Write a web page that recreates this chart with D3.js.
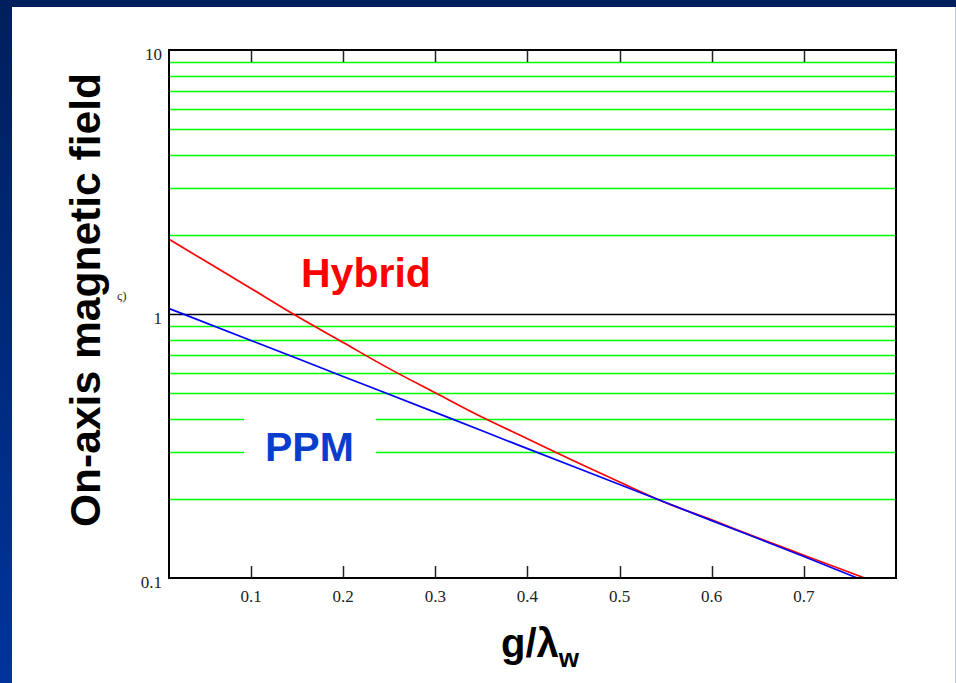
<!DOCTYPE html>
<html lang="en">
  <head>
    <meta charset="UTF-8" />
    <title>On-axis magnetic field</title>
    <script src="https://d3js.org/d3.v7.min.js"></script>
    <style>
      body {
        margin: 0;
        width: 956px;
        height: 683px;
        overflow: hidden;
        background: linear-gradient(180deg, #001f5c, #00349c);
      }
      svg {
        display: block;
      }
    </style>
  </head>
  <body>
    <svg id="chart" width="956" height="683"></svg>
    <script>
      // values (g/lambda_w vs field, log scale)
      const hybridGap = [0.012, 0.05, 0.1, 0.15, 0.2, 0.25, 0.3, 0.35, 0.4, 0.45, 0.5, 0.55, 0.6, 0.65, 0.7, 0.766];
      const hybridField = [1.91, 1.59, 1.25, 0.98, 0.78, 0.621, 0.503, 0.408, 0.337, 0.278, 0.231, 0.193, 0.166, 0.142, 0.122, 0.1];
      const ppmGap = [0.012, 0.1, 0.2, 0.3, 0.4, 0.5, 0.6, 0.7, 0.758];
      const ppmField = [1.046, 0.794, 0.58, 0.424, 0.309, 0.226, 0.165, 0.1206, 0.1];
      const xTicks = [0.1, 0.2, 0.3, 0.4, 0.5, 0.6, 0.7];
      const yTicks = [0.1, 1, 10];

      const width = 956;
      const height = 683;
      const plot = { left: 169, right: 896, top: 50, bottom: 578 };

      const svg = d3.select("#chart");

      // white slide panel
      svg
        .append("rect")
        .attr("x", 12)
        .attr("y", 7)
        .attr("width", width - 13)
        .attr("height", height - 7)
        .attr("fill", "#fff");
      svg
        .append("line")
        .attr("x1", 955.5)
        .attr("x2", 955.5)
        .attr("y1", 7)
        .attr("y2", height)
        .attr("stroke", "#b8c4dc");

      const x = d3.scaleLinear().domain([0.011, 0.8]).range([plot.left, plot.right]);
      const y = d3.scaleLog().domain([0.1, 10]).range([plot.bottom, plot.top]);

      // minor log grid in green, unit line in black
      const minor = y.ticks().filter((v) => !yTicks.some((t) => Math.abs(t - v) < 1e-9));
      svg
        .append("g")
        .selectAll("line")
        .data(minor)
        .join("line")
        .attr("x1", plot.left)
        .attr("x2", plot.right)
        .attr("y1", (d) => Math.round(y(d)) + 0.5)
        .attr("y2", (d) => Math.round(y(d)) + 0.5)
        .attr("stroke", "#00ff00")
        .attr("stroke-width", 1.3);
      svg
        .append("line")
        .attr("x1", plot.left)
        .attr("x2", plot.right)
        .attr("y1", Math.round(y(1)) + 0.5)
        .attr("y2", Math.round(y(1)) + 0.5)
        .attr("stroke", "#000")
        .attr("stroke-width", 1.3);

      // white box behind PPM label
      svg
        .append("rect")
        .attr("x", 244)
        .attr("y", 408)
        .attr("width", 132)
        .attr("height", 62)
        .attr("fill", "#fff");

      svg
        .append("clipPath")
        .attr("id", "clip")
        .append("rect")
        .attr("x", plot.left)
        .attr("y", plot.top)
        .attr("width", plot.right - plot.left)
        .attr("height", plot.bottom - plot.top + 1);

      const line = d3
        .line()
        .x((d) => x(d[0]))
        .y((d) => y(d[1]))
        .curve(d3.curveMonotoneX);

      svg
        .append("path")
        .datum(d3.zip(hybridGap, hybridField))
        .attr("clip-path", "url(#clip)")
        .attr("d", line)
        .attr("fill", "none")
        .attr("stroke", "#ff0000")
        .attr("stroke-width", 1.7);
      svg
        .append("path")
        .datum(d3.zip(ppmGap, ppmField))
        .attr("clip-path", "url(#clip)")
        .attr("d", line)
        .attr("fill", "none")
        .attr("stroke", "#0000ff")
        .attr("stroke-width", 1.7);

      // frame
      svg
        .append("rect")
        .attr("x", plot.left)
        .attr("y", plot.top)
        .attr("width", plot.right - plot.left)
        .attr("height", plot.bottom - plot.top)
        .attr("fill", "none")
        .attr("stroke", "#000")
        .attr("stroke-width", 2);

      // ticks on top and bottom edges
      const tickG = svg.append("g");
      xTicks.forEach((t) => {
        const px = Math.round(x(t)) + 0.5;
        tickG
          .append("line")
          .attr("x1", px)
          .attr("x2", px)
          .attr("y1", plot.top)
          .attr("y2", plot.top + 12)
          .attr("stroke", "#222")
          .attr("stroke-width", 1.5);
        tickG
          .append("line")
          .attr("x1", px)
          .attr("x2", px)
          .attr("y1", plot.bottom - 12)
          .attr("y2", plot.bottom)
          .attr("stroke", "#222")
          .attr("stroke-width", 1.5);
      });

      const serif = "'Liberation Serif', 'Times New Roman', serif";
      const sans = "'Liberation Sans', Arial, sans-serif";

      svg
        .append("g")
        .selectAll("text")
        .data(xTicks)
        .join("text")
        .attr("x", (d) => x(d))
        .attr("y", plot.bottom + 24)
        .attr("text-anchor", "middle")
        .attr("font-family", serif)
        .attr("font-size", 17)
        .attr("fill", "#222")
        .text((d) => d3.format(".1f")(d));

      svg
        .append("g")
        .selectAll("text")
        .data(yTicks)
        .join("text")
        .attr("x", 162)
        .attr("y", (d) => y(d) + 9.5)
        .attr("text-anchor", "end")
        .attr("font-family", serif)
        .attr("font-size", 17)
        .attr("fill", "#222")
        .text((d) => (d < 1 ? d3.format(".1f")(d) : d));

      // stray unit fragment left of the axis
      svg
        .append("text")
        .attr("x", 117)
        .attr("y", 300)
        .attr("font-family", serif)
        .attr("font-size", 13)
        .attr("fill", "#333")
        .text("ς)");

      // axis titles
      svg
        .append("text")
        .attr("transform", "translate(100, 300) rotate(-90)")
        .attr("text-anchor", "middle")
        .attr("font-family", sans)
        .attr("font-weight", "bold")
        .attr("font-size", 42)
        .attr("textLength", 454)
        .attr("lengthAdjust", "spacingAndGlyphs")
        .attr("fill", "#000")
        .text("On-axis magnetic field");

      const xTitle = svg
        .append("text")
        .attr("x", 540)
        .attr("y", 657)
        .attr("text-anchor", "middle")
        .attr("font-family", sans)
        .attr("font-weight", "bold")
        .attr("font-size", 40)
        .attr("fill", "#000");
      xTitle.append("tspan").text("g/λ");
      xTitle
        .append("tspan")
        .attr("dy", 10)
        .attr("font-size", 26)
        .text("w");

      // series labels
      svg
        .append("text")
        .attr("x", 301)
        .attr("y", 287)
        .attr("font-family", sans)
        .attr("font-weight", "bold")
        .attr("font-size", 41)
        .attr("fill", "#ff0000")
        .text("Hybrid");
      svg
        .append("text")
        .attr("x", 265)
        .attr("y", 461)
        .attr("font-family", sans)
        .attr("font-weight", "bold")
        .attr("font-size", 41)
        .attr("fill", "#0a3dcc")
        .text("PPM");
    </script>
  </body>
</html>
